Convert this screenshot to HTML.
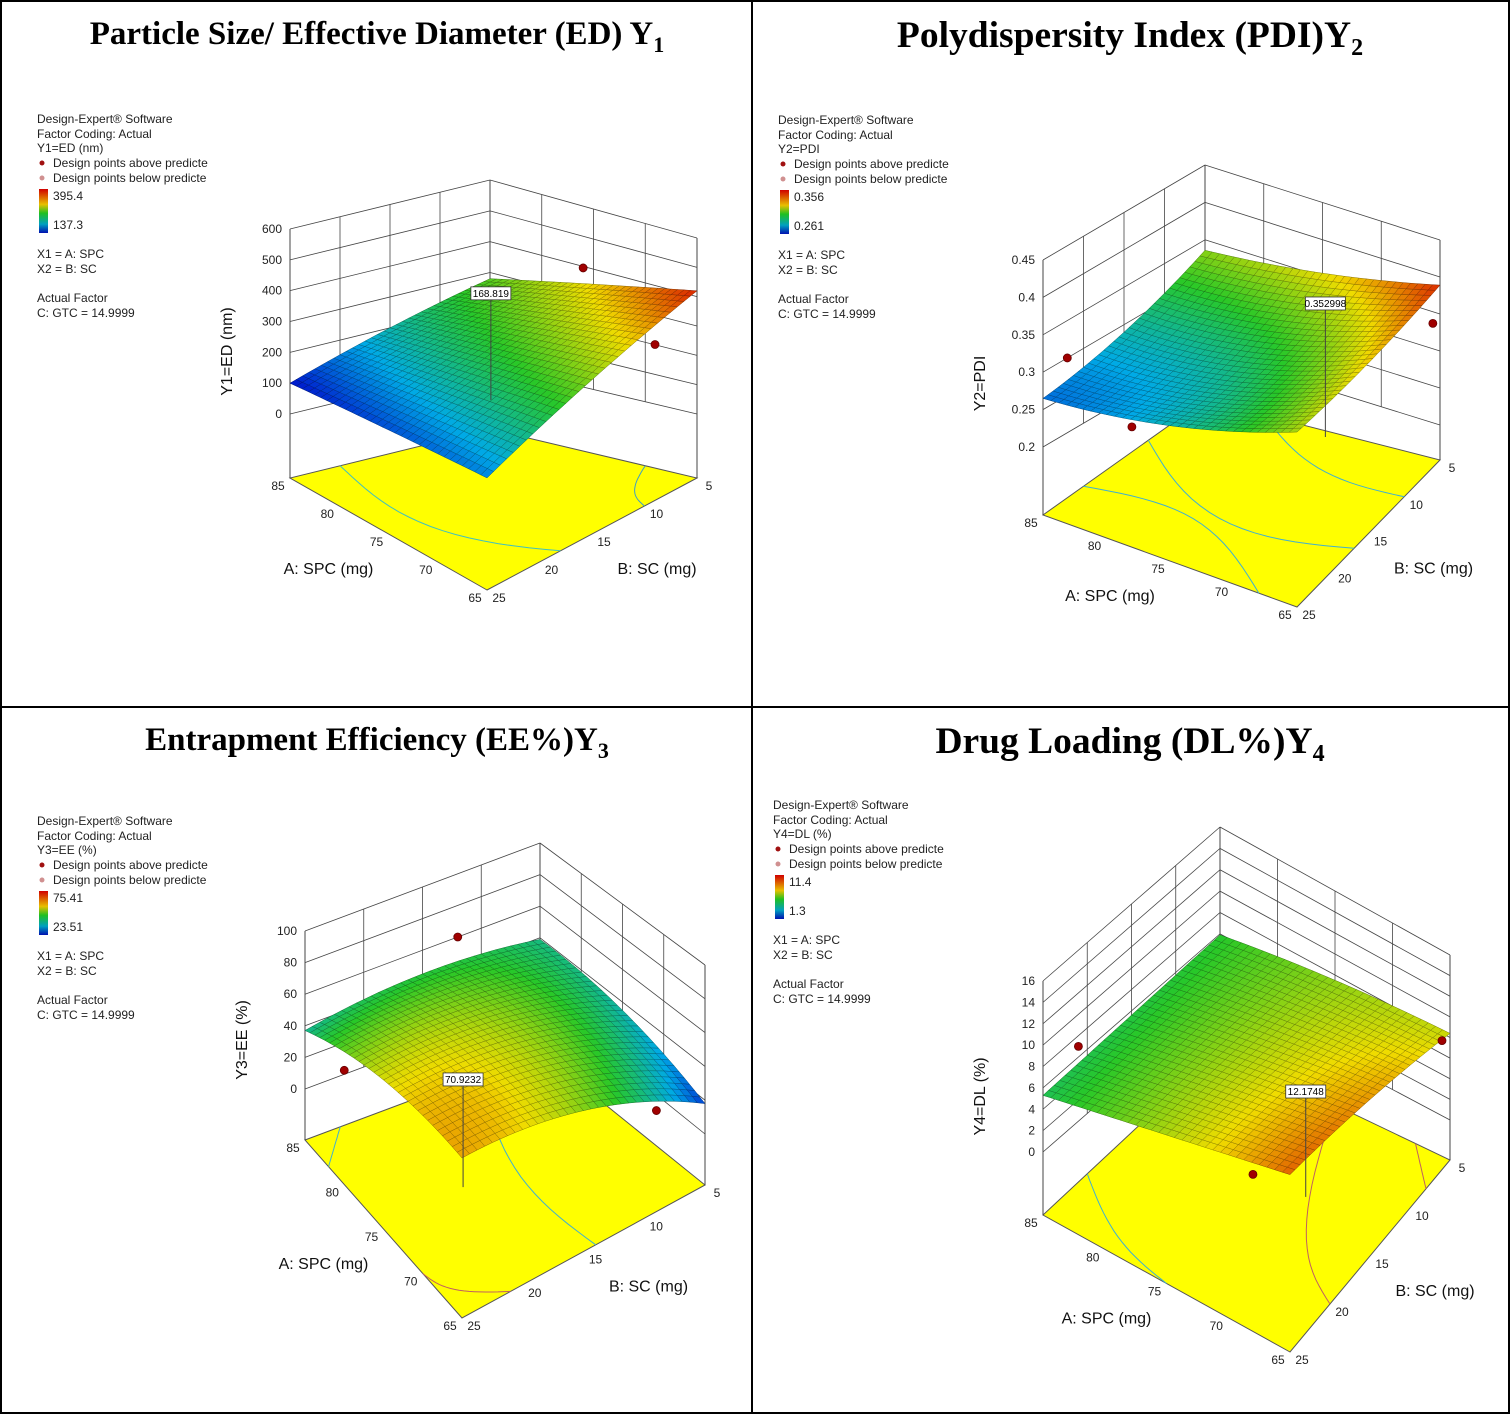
<!DOCTYPE html>
<html><head><meta charset="utf-8">
<style>
html,body{margin:0;padding:0;background:#fff;}
svg{display:block;}
.leg{font-family:"Liberation Sans",Arial,sans-serif;font-size:12px;fill:#222;}
.tk{font-family:"Liberation Sans",Arial,sans-serif;font-size:12px;fill:#222;}
.at{font-family:"Liberation Sans",Arial,sans-serif;font-size:16px;fill:#111;}
.ttl{font-family:"Liberation Serif","Times New Roman",serif;font-weight:bold;fill:#000;}
</style></head>
<body>
<svg id="root" width="1510" height="1416" viewBox="0 0 1510 1416" xmlns="http://www.w3.org/2000/svg">
<rect x="1" y="1" width="1508" height="1412" fill="#fff" stroke="#000" stroke-width="2"/>
<line x1="752" y1="1" x2="752" y2="1413" stroke="#000" stroke-width="2"/>
<line x1="1" y1="707" x2="1509" y2="707" stroke="#000" stroke-width="2"/>
<text class="ttl" x="377" y="44" font-size="33" text-anchor="middle">Particle Size/ Effective Diameter (ED) Y<tspan font-size="22" dy="8">1</tspan></text>
<text class="ttl" x="1130" y="47" font-size="37.5" text-anchor="middle">Polydispersity Index (PDI)Y<tspan font-size="24" dy="8">2</tspan></text>
<text class="ttl" x="377" y="750" font-size="33" text-anchor="middle">Entrapment Efficiency (EE%)Y<tspan font-size="22" dy="8">3</tspan></text>
<text class="ttl" x="1130" y="753" font-size="37.5" text-anchor="middle">Drug Loading (DL%)Y<tspan font-size="24" dy="8">4</tspan></text>
</svg>
<script>
// ---- data (grid rows A=65,75,85; cols B=5,15,25) ----
const aLevels=[65,75,85];
const bLevels=[5,15,25];
const aTicks=[65,70,75,80,85];
const bTicks=[5,10,15,20,25];
const edValues=[[420,300,156],[350,250,130],[280,200,100]];
const pdiValues=[[0.389,0.36,0.343],[0.355,0.305,0.29],[0.336,0.29,0.265]];
const eeValues=[[18,55,69],[35,58,62],[39,45,37]];
const dlValues=[[8.4,10,10.7],[7.5,8,8],[5.9,5.6,5.3]];
const edTicks=[0,100,200,300,400,500,600];
const pdiTicks=[0.2,0.25,0.3,0.35,0.4,0.45];
const eeTicks=[0,20,40,60,80,100];
const dlTicks=[0,2,4,6,8,10,12,14,16];
const edPoints=[[76,5,395],[65,9,310]];
const pdiPoints=[[65,6,0.345],[78,25,0.27],[85,22,0.30]];
const eePoints=[[85,12,60],[80,25,40],[65,9,30]];
const dlPoints=[[85,21,7],[68,25,8.8],[65,6,8.5]];
// [A, B, printed value, display height]
const edLabel=[80,12,168.819,350];
const pdiLabel=[72,12,0.352998,0.38];
const eeLabel=[72,22,70.9232,68];
const dlLabel=[70,18,12.1748,10];

const NS='http://www.w3.org/2000/svg';
const root=document.getElementById('root');
function mk(tag,attrs,parent){const e=document.createElementNS(NS,tag);for(const k in attrs)e.setAttribute(k,attrs[k]);(parent||root).appendChild(e);return e;}

function jet(t){t=Math.max(0,Math.min(1,t));
 const st=[[0,[0,0,200]],[0.25,[0,170,230]],[0.5,[40,200,40]],[0.75,[240,220,0]],[1,[215,10,0]]];
 for(let i=0;i<4;i++){if(t<=st[i+1][0]){const f=(t-st[i][0])/(st[i+1][0]-st[i][0]);const a=st[i][1],b=st[i+1][1];
 return [0,1,2].map(k=>Math.round(a[k]+(b[k]-a[k])*f));}}return st[4][1];}
function lag(x,xs,k){let r=1;for(let j=0;j<3;j++)if(j!==k)r*=(x-xs[j])/(xs[k]-xs[j]);return r;}
function surf(vals,A,B){let s=0;for(let i=0;i<3;i++)for(let j=0;j<3;j++)s+=vals[i][j]*lag(A,aLevels,i)*lag(B,bLevels,j);return s;}

function panel(cfg){
 const g=mk('g',{});
 
 
 const C=cfg.c;
 function bil(u,v,k){return C.F[k]*(1-u)*(1-v)+C.L[k]*u*(1-v)+C.R[k]*(1-u)*v+C.K[k]*u*v;}
 function P(A,B,Y){const u=(A-65)/20,v=(25-B)/20;const x=bil(u,v,0),y0=bil(u,v,1),yt=bil(u,v,2);
  const t=(Y-cfg.yMin)/(cfg.yMax-cfg.yMin);return [x,y0+(yt-y0)*t];}
 function Fl(A,B){const u=(A-65)/20,v=(25-B)/20;return [bil(u,v,0),bil(u,v,1)+bil(u,v,3)];}
 const pt=p=>p[0].toFixed(1)+','+p[1].toFixed(1);
 const fl=mk('polygon',{points:[Fl(65,25),Fl(85,25),Fl(85,5),Fl(65,5)].map(pt).join(' '),fill:'#ffff00',stroke:'#555','stroke-width':1},g);
 
 
 for(const cc of cfg.contours){const pts=[];for(let s=0;s<=20;s++){const A=cc[0]+(cc[2]-cc[0])*s/20,B=cc[1]+(cc[3]-cc[1])*s/20+cc[4]*Math.sin(Math.PI*s/20);pts.push(pt(Fl(A,B)));}
  const pl=mk('polyline',{points:pts.join(' '),fill:'none',stroke:cc[5],'stroke-width':1},g);
  
  }
 const gl=(p,q,w)=>{const l=mk('line',{x1:p[0],y1:p[1],x2:q[0],y2:q[1],stroke:'#444','stroke-width':w||0.8},g);};
 for(const y of cfg.ticks){gl(P(85,25,y),P(85,5,y));gl(P(85,5,y),P(65,5,y));}
 for(const b of bTicks){gl(P(85,b,cfg.yMin),P(85,b,cfg.yMax));}
 for(const a of aTicks){gl(P(a,5,cfg.yMin),P(a,5,cfg.yMax));}
 gl(Fl(85,25),P(85,25,cfg.yMax),1);gl(Fl(65,5),P(65,5,cfg.yMax),1);gl(Fl(85,5),P(85,5,cfg.yMax),1);
 const N=32,mn=cfg.cMin,mx=cfg.cMax;
 const sg=mk('g',{},g);
 for(let s=2*N-2;s>=0;s--){for(let i=N-1;i>=0;i--){const j=s-i; if(j<0||j>=N)continue;
  const ia=i, jb=N-1-j;
  const A0=65+20*ia/N,A1=65+20*(ia+1)/N,B0=25-20*jb/N,B1=25-20*(jb+1)/N;
  const v=surf(cfg.vals,(A0+A1)/2,(B0+B1)/2);
  const c=jet((v-mn)/(mx-mn));
  const q=mk('polygon',{points:[P(A0,B0,surf(cfg.vals,A0,B0)),P(A1,B0,surf(cfg.vals,A1,B0)),P(A1,B1,surf(cfg.vals,A1,B1)),P(A0,B1,surf(cfg.vals,A0,B1))].map(pt).join(' '),
   fill:`rgb(${c})`,stroke:`rgb(${c.map(x=>Math.round(x*0.6))})`,'stroke-width':0.5},sg);
  
  
 }}
 for(const d of cfg.pts){const p=P(d[0],d[1],d[2]);const c=mk('circle',{cx:p[0],cy:p[1],r:4,fill:'#a00000',stroke:'#600','stroke-width':0.8},g);
  }
 const lb=cfg.lab,lp=P(lb[0],lb[1],lb[3]),lb0=P(lb[0],lb[1],cfg.yMin);
 gl([lp[0]+20,lp[1]+6],[lp[0]+20,lb0[1]],1);
 const r=mk('rect',{x:lp[0],y:lp[1]-6,width:40,height:13,fill:'#fff',stroke:'#333','stroke-width':0.8},g);
 
 const lt=mk('text',{x:lp[0]+20,y:lp[1]+4,'text-anchor':'middle','font-size':10,'font-family':'Liberation Sans,sans-serif'},g);lt.textContent=String(lb[2]);
 
 for(const y of cfg.ticks){const p=P(85,25,y);const t=mk('text',{class:'tk',x:p[0]-8,y:p[1]+4,'text-anchor':'end'},g);t.textContent=String(y);
  }
 for(const a of aTicks){const p=Fl(a,25);const t=mk('text',{class:'tk',x:p[0]-12,y:p[1]+12,'text-anchor':'middle'},g);t.textContent=String(a);
  }
 for(const b of bTicks){const p=Fl(65,b);const t=mk('text',{class:'tk',x:p[0]+12,y:p[1]+12,'text-anchor':'middle'},g);t.textContent=String(b);
  }
 const pa=Fl(75,25),pb=Fl(65,15);
 const ta=mk('text',{class:'at',x:pa[0]-60,y:pa[1]+40,'text-anchor':'middle'},g);ta.textContent='A: SPC (mg)';
 
 const tb=mk('text',{class:'at',x:pb[0]+65,y:pb[1]+40,'text-anchor':'middle'},g);tb.textContent='B: SC (mg)';
 
 const ym=P(85,25,(cfg.yMin+cfg.yMax)/2);
 const ty=mk('text',{class:'at',x:0,y:0,'text-anchor':'middle',transform:`translate(${ym[0]-58},${ym[1]+30}) rotate(-90)`},g);ty.textContent=cfg.ytitle;
 
 const L=cfg.leg,lx=L[0],ly=L[1];
 const lines=[['Design-Expert® Software',0,'#222'],['Factor Coding: Actual',15,'#222'],[cfg.resp,29,'#222'],['Design points above predicte',44,'#a01010'],['Design points below predicte',59,'#d8a0a0']];
 const lg=mk('g',{},g);
 lines.forEach((l,k)=>{const t=mk('text',{class:'leg',x:lx+(k>=3?16:0),y:ly+l[1],fill:l[2]},lg);t.textContent=l[0];});
 mk('circle',{cx:lx+5,cy:ly+40,r:2.5,fill:'#a01010'},lg);mk('circle',{cx:lx+5,cy:ly+55,r:2.5,fill:'#d09090'},lg);
 const gid='grad'+cfg.name;const df=mk('defs',{},lg);const lgr=mk('linearGradient',{id:gid,x1:0,y1:0,x2:0,y2:1},df);
 [[0,'#d00000'],[0.35,'#e8c000'],[0.55,'#20c020'],[0.8,'#00a0c0'],[1,'#0010b0']].forEach(s=>mk('stop',{offset:s[0],'stop-color':s[1]},lgr));
 mk('rect',{x:lx+2,y:ly+66,width:9,height:44,fill:`url(#${gid})`},lg);
 const t1=mk('text',{class:'leg',x:lx+16,y:ly+77,fill:'#b02020'},lg);t1.textContent=cfg.lmax;
 const t2=mk('text',{class:'leg',x:lx+16,y:ly+106,fill:'#303090'},lg);t2.textContent=cfg.lmin;
 [['X1 = A: SPC',135],['X2 = B: SC',150],['Actual Factor',179],['C: GTC = 14.9999',194]].forEach(l=>{const t=mk('text',{class:'leg',x:lx,y:ly+l[1]},lg);t.textContent=l[0];});
}

panel({name:'panel-ed',vals:edValues,ticks:edTicks,yMin:0,yMax:600,cMin:90,cMax:430,pts:edPoints,lab:edLabel,
 c:{F:[487,526,341,64],L:[290,414,229,64],R:[697,414,238,64],K:[490,365,180,64]},
 ytitle:'Y1=ED (nm)',resp:'Y1=ED (nm)',lmax:'395.4',lmin:'137.3',leg:[37,123],
 contours:[[85,20,65,18,3,'#40c0c0'],[70,5,65,10,1,'#40a0c0']]});
panel({name:'panel-pdi',vals:pdiValues,ticks:pdiTicks,yMin:0.2,yMax:0.45,cMin:0.24,cMax:0.395,pts:pdiPoints,lab:pdiLabel,
 c:{F:[1297,539,352,68],L:[1043,447,260,68],R:[1440,425,240,35],K:[1205,352,165,48]},
 ytitle:'Y2=PDI',resp:'Y2=PDI',lmax:'0.356',lmin:'0.261',leg:[778,124],
 contours:[[85,20,68,25,-3,'#40b0d0'],[85,12,65,17,4,'#40b0d0'],[80,5,65,10,2,'#40b0d0']]});
panel({name:'panel-ee',vals:eeValues,ticks:eeTicks,yMin:0,yMax:100,cMin:12,cMax:82,pts:eePoints,lab:eeLabel,
 c:{F:[462,1267,1109,51],L:[305,1089,931,51],R:[705,1134,965,51],K:[540,1001,843,51]},
 ytitle:'Y3=EE (%)',resp:'Y3=EE (%)',lmax:'75.41',lmin:'23.51',leg:[37,825],
 contours:[[85,10,65,14,2,'#40b0d0'],[70,25,65,21,1,'#c06060'],[85,22,82,25,0,'#40b0d0']]});
panel({name:'panel-dl',vals:dlValues,ticks:dlTicks,yMin:0,yMax:16,cMin:0,cMax:12,pts:dlPoints,lab:dlLabel,
 c:{F:[1290,1289,1118,63],L:[1043,1152,981,63],R:[1450,1120,955,40],K:[1220,998,827,52]},
 ytitle:'Y4=DL (%)',resp:'Y4=DL (%)',lmax:'11.4',lmin:'1.3',leg:[773,809],
 contours:[[85,20,75,25,1,'#40b0d0'],[75,5,65,20,3,'#c06060'],[68,5,65,8,0,'#c06060']]});
</script>
</body></html>
